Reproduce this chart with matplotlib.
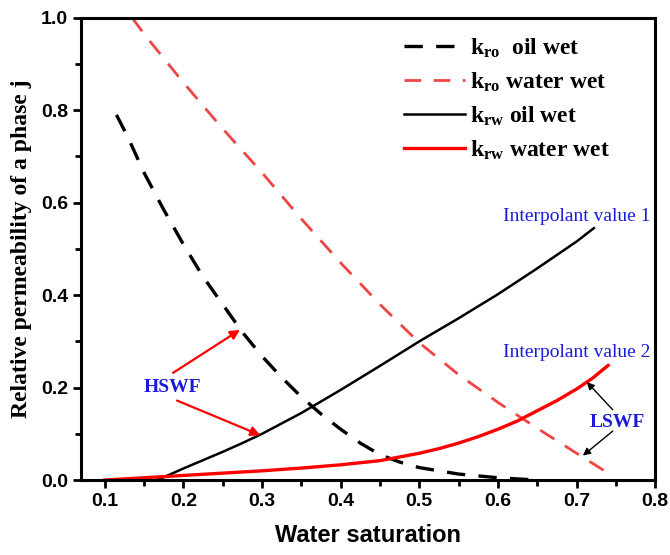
import matplotlib
matplotlib.use("Agg")

import matplotlib.pyplot as plt
from matplotlib.ticker import MultipleLocator

# ---------------- DATA ----------------
sw_ro_oil = [0.115, 0.13, 0.15, 0.175, 0.2, 0.225, 0.25, 0.275, 0.3, 0.325, 0.35,
             0.375, 0.4, 0.425, 0.45, 0.475, 0.5, 0.55, 0.6, 0.65]
kro_oil = [0.79, 0.74, 0.665, 0.585, 0.51, 0.44, 0.38, 0.32, 0.268, 0.222, 0.18,
           0.143, 0.11, 0.08, 0.055, 0.039, 0.027, 0.013, 0.005, 0.0]

sw_ro_water = [0.135, 0.15, 0.2, 0.25, 0.3, 0.35, 0.4, 0.45, 0.5, 0.55, 0.6, 0.65, 0.7, 0.74]
kro_water = [1.0, 0.965, 0.86, 0.76, 0.665, 0.565, 0.47, 0.38, 0.297, 0.228, 0.168,
             0.112, 0.058, 0.015]

sw_rw_oil = [0.165, 0.175, 0.2, 0.225, 0.25, 0.275, 0.3, 0.35, 0.4, 0.45, 0.5, 0.55,
             0.6, 0.625, 0.65, 0.675, 0.7, 0.722]
krw_oil = [0.0, 0.006, 0.025, 0.043, 0.061, 0.08, 0.1, 0.145, 0.195, 0.247, 0.3, 0.35,
           0.402, 0.43, 0.458, 0.487, 0.516, 0.545]

sw_rw_water = [0.1, 0.15, 0.2, 0.25, 0.3, 0.35, 0.4, 0.45, 0.5, 0.525, 0.55, 0.575,
               0.6, 0.625, 0.65, 0.675, 0.7, 0.72, 0.74]
krw_water = [0.0, 0.005, 0.01, 0.015, 0.02, 0.026, 0.033, 0.042, 0.058, 0.068, 0.08,
             0.094, 0.11, 0.128, 0.15, 0.172, 0.197, 0.22, 0.248]

labels = [
    r"$\mathbf{k}_{\mathbf{ro}}$  oil wet",
    r"$\mathbf{k}_{\mathbf{ro}}$ water wet",
    r"$\mathbf{k}_{\mathbf{rw}}$ oil wet",
    r"$\mathbf{k}_{\mathbf{rw}}$ water wet",
]

plt.rcParams["mathtext.fontset"] = "custom"
plt.rcParams["mathtext.rm"] = "Liberation Serif"
plt.rcParams["mathtext.bf"] = "Liberation Serif:bold"
plt.rcParams["mathtext.it"] = "Liberation Serif:italic"

SANS = "Liberation Sans"
SERIF = "Liberation Serif"
BLUE = "#1a1adb"

fig = plt.figure(figsize=(6.7, 5.55), dpi=100)
ax = fig.add_axes([0.121, 0.135, 0.857, 0.833])

ax.plot(sw_ro_oil, kro_oil, color="black", lw=2.4, dashes=(5.5, 4), label=labels[0])
ax.plot(sw_ro_water, kro_water, color="#f04545", lw=2.0, dashes=(6, 4.5), label=labels[1])
ax.plot(sw_rw_oil, krw_oil, color="black", lw=1.8, label=labels[2])
ax.plot(sw_rw_water, krw_water, color="#ff0000", lw=2.4, label=labels[3])

ax.set_xlim(0.07, 0.8)
ax.set_ylim(0.0, 1.0)
ax.xaxis.set_minor_locator(MultipleLocator(0.05))
ax.yaxis.set_major_locator(MultipleLocator(0.2))
ax.yaxis.set_minor_locator(MultipleLocator(0.1))
ax.set_xticks([0.1, 0.2, 0.3, 0.4, 0.5, 0.6, 0.7, 0.8])
ax.set_xticklabels(["0.1", "0.2", "0.3", "0.4", "0.5", "0.6", "0.7", "0.8"])

for s in ax.spines.values():
    s.set_linewidth(2.2)
ax.tick_params(which="major", direction="out", length=6, width=2, labelsize=14)
ax.tick_params(which="minor", direction="out", length=4, width=2)
for lab in ax.get_xticklabels() + ax.get_yticklabels():
    lab.set_fontfamily(SANS)
    lab.set_fontweight("bold")

ax.set_xlabel("Water saturation", fontfamily=SANS, fontweight="bold", fontsize=17, labelpad=10)
ax.set_ylabel("Relative permeability of a phase j", fontfamily=SERIF, fontweight="bold",
              fontsize=17, labelpad=6)

leg = ax.legend(loc="upper left", bbox_to_anchor=(0.525, 1.005), frameon=False,
                prop={"family": SERIF, "weight": "bold", "size": 17},
                handlelength=2.6, handletextpad=0.2, labelspacing=0.45)

# ---------------- ANNOTATIONS ----------------
ax.text(0.794, 0.57, "Interpolant value 1", color=BLUE, fontfamily=SERIF,
        fontsize=14, ha="right", va="center")
ax.text(0.794, 0.275, "Interpolant value 2", color=BLUE, fontfamily=SERIF,
        fontsize=14, ha="right", va="center")

red_arrow = dict(arrowstyle="-|>", color="red", lw=1.6, mutation_scale=14, shrinkA=0, shrinkB=0)
blk_arrow = dict(arrowstyle="-|>", color="black", lw=1.0, mutation_scale=11, shrinkA=0, shrinkB=0)

ax.text(0.186, 0.2, "HSWF", color=BLUE, fontfamily=SERIF, fontweight="bold",
        fontsize=14, ha="center", va="center")
ax.annotate("", xy=(0.272, 0.325), xytext=(0.187, 0.232), arrowprops=red_arrow)
ax.annotate("", xy=(0.298, 0.097), xytext=(0.192, 0.172), arrowprops=red_arrow)

ax.text(0.752, 0.125, "LSWF", color=BLUE, fontfamily=SERIF, fontweight="bold",
        fontsize=14, ha="center", va="center")
ax.annotate("", xy=(0.713, 0.212), xytext=(0.746, 0.152), arrowprops=blk_arrow)
ax.annotate("", xy=(0.708, 0.053), xytext=(0.746, 0.106), arrowprops=blk_arrow)

fig.savefig("out.png", dpi=100)
